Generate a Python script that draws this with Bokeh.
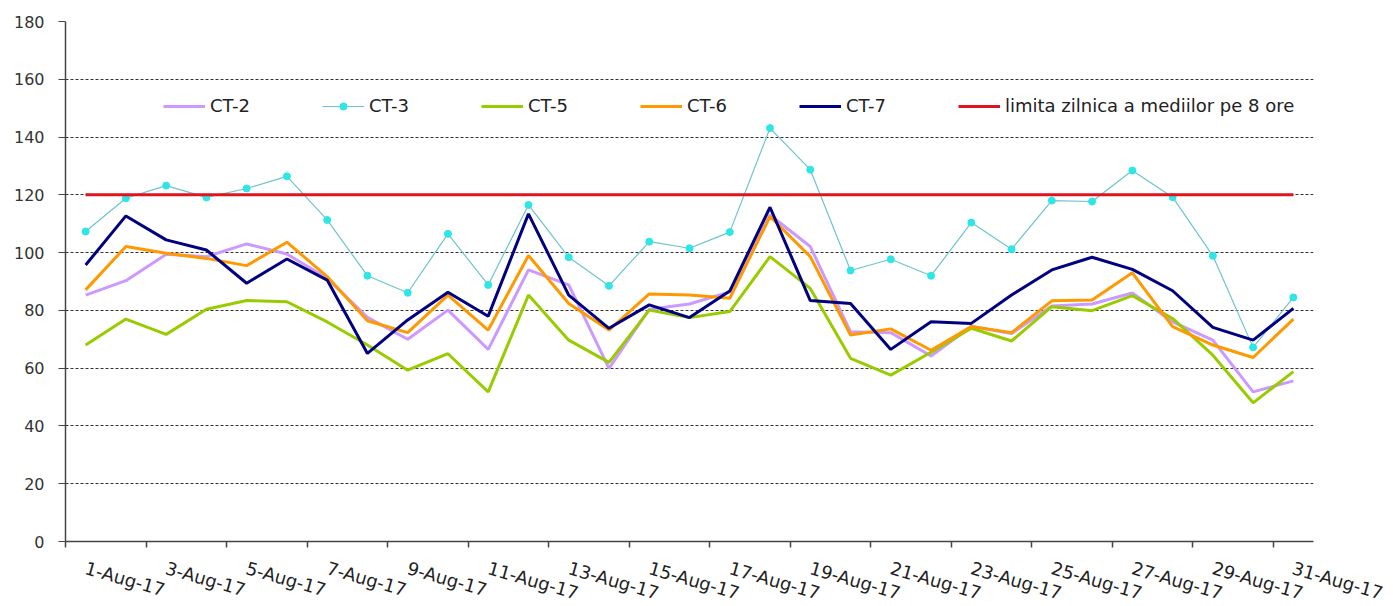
from bokeh.plotting import figure
from bokeh.models import Range1d, FixedTicker, Legend, LegendItem
from bokeh.embed import file_html
from bokeh.resources import INLINE

days = [1, 2, 3, 4, 5, 6, 7, 8, 9, 10, 11, 12, 13, 14, 15, 16, 17, 18, 19, 20,
        21, 22, 23, 24, 25, 26, 27, 28, 29, 30, 31]
date_labels = ["1-Aug-17", "2-Aug-17", "3-Aug-17", "4-Aug-17", "5-Aug-17", "6-Aug-17",
               "7-Aug-17", "8-Aug-17", "9-Aug-17", "10-Aug-17", "11-Aug-17", "12-Aug-17",
               "13-Aug-17", "14-Aug-17", "15-Aug-17", "16-Aug-17", "17-Aug-17", "18-Aug-17",
               "19-Aug-17", "20-Aug-17", "21-Aug-17", "22-Aug-17", "23-Aug-17", "24-Aug-17",
               "25-Aug-17", "26-Aug-17", "27-Aug-17", "28-Aug-17", "29-Aug-17", "30-Aug-17",
               "31-Aug-17"]

ct2 = [85.3, 90.3, 99.4, 98.6, 103.0, 99.5, 91.1, 77.6, 70.0, 80.1, 66.5, 94.0, 88.8, 59.9,
       80.4, 82.2, 86.4, 113.0, 102.1, 72.6, 72.3, 64.2, 74.4, 72.0, 81.5, 82.2, 86.0, 76.0,
       69.7, 51.8, 55.6]
ct3 = [107.3, 118.8, 123.2, 119.1, 122.2, 126.4, 111.3, 92.0, 86.1, 106.5, 88.8, 116.5, 98.4,
       88.5, 103.8, 101.5, 107.1, 143.1, 128.7, 93.8, 97.7, 92.0, 110.4, 101.2, 118.0, 117.7,
       128.4, 119.2, 98.9, 67.2, 84.5]
ct5 = [68.0, 77.0, 71.7, 80.4, 83.4, 83.0, 76.0, 68.0, 59.3, 65.0, 51.8, 85.3, 69.7, 62.0,
       80.1, 77.5, 79.6, 98.6, 87.6, 63.4, 57.6, 65.5, 73.8, 69.4, 81.3, 79.9, 85.1, 77.2,
       64.5, 48.0, 58.8]
ct6 = [87.1, 102.1, 99.8, 98.0, 95.5, 103.6, 91.7, 76.4, 72.3, 85.3, 73.2, 99.0, 82.4, 73.2,
       85.7, 85.3, 84.2, 112.5, 98.6, 71.5, 73.6, 66.2, 74.4, 72.3, 83.3, 83.6, 93.0, 74.4,
       68.0, 63.7, 77.0]
ct7 = [95.7, 112.7, 104.4, 100.9, 89.4, 97.8, 90.5, 65.1, 76.7, 86.3, 78.0, 113.4, 85.3, 73.8,
       81.9, 77.5, 86.7, 115.7, 83.4, 82.4, 66.5, 76.1, 75.5, 85.3, 94.0, 98.4, 94.2, 86.8,
       74.1, 69.7, 80.7]
limit = [120, 120, 120, 120, 120, 120, 120, 120, 120, 120, 120, 120, 120, 120, 120, 120,
         120, 120, 120, 120, 120, 120, 120, 120, 120, 120, 120, 120, 120, 120, 120]

y_ticks = [0, 20, 40, 60, 80, 100, 120, 140, 160, 180]
label_days = [1, 3, 5, 7, 9, 11, 13, 15, 17, 19, 21, 23, 25, 27, 29, 31]
boundary_ticks = [0.5, 2.5, 4.5, 6.5, 8.5, 10.5, 12.5, 14.5, 16.5, 18.5, 20.5, 22.5,
                  24.5, 26.5, 28.5, 30.5]

FONT = "DejaVu Sans"

p = figure(width=1385, height=598, frame_width=1248, frame_height=520,
           x_range=Range1d(0.5, 31.5), y_range=Range1d(0, 180),
           output_backend="svg", toolbar_location=None,
           min_border_left=65, min_border_right=72, min_border_top=21, min_border_bottom=57)
p.outline_line_color = None
p.background_fill_color = "white"
p.border_fill_color = "white"

# grid
p.xgrid.grid_line_color = None
p.ygrid.ticker = FixedTicker(ticks=y_ticks)
p.ygrid.grid_line_color = "#333333"
p.ygrid.grid_line_dash = "3 2"
p.ygrid.grid_line_width = 1

# y axis
p.yaxis.ticker = FixedTicker(ticks=y_ticks)
p.yaxis.axis_line_color = "#444444"
p.yaxis.axis_line_width = 1.5
p.yaxis.major_tick_out = 7
p.yaxis.major_tick_in = 0
p.yaxis.major_tick_line_color = "#444444"
p.yaxis.minor_tick_line_color = None
p.yaxis.major_label_text_font = FONT
p.yaxis.major_label_text_font_size = "16px"
p.yaxis.major_label_text_color = "#333333"
p.yaxis.major_label_standoff = 14

# x axis
p.xaxis.ticker = FixedTicker(ticks=label_days, minor_ticks=boundary_ticks)
p.xaxis.major_label_overrides = {d: date_labels[d - 1] for d in label_days}
p.xaxis.axis_line_color = "#444444"
p.xaxis.axis_line_width = 1.5
p.xaxis.major_tick_line_color = None
p.xaxis.major_tick_out = 0
p.xaxis.major_tick_in = 0
p.xaxis.minor_tick_line_color = "#444444"
p.xaxis.minor_tick_line_width = 1.5
p.xaxis.minor_tick_out = 6
p.xaxis.minor_tick_in = 0
p.xaxis.major_label_orientation = -0.28
p.xaxis.major_label_text_font = FONT
p.xaxis.major_label_text_font_size = "18px"
p.xaxis.major_label_text_color = "#222222"
p.xaxis.major_label_standoff = 20

r2 = p.line(days, ct2, line_color="#CC99FF", line_width=3)
r3 = p.line(days, ct3, line_color="#6CC5CC", line_width=1.2)
r3m = p.scatter(days, ct3, size=7, fill_color="#2EE6E6", line_color="#2EE6E6")
r5 = p.line(days, ct5, line_color="#99CC00", line_width=3)
r6 = p.line(days, ct6, line_color="#FF9900", line_width=3)
r7 = p.line(days, ct7, line_color="#000080", line_width=3)
rl = p.line(days, limit, line_color="#E0141E", line_width=3)

legend = Legend(items=[
    LegendItem(label="CT-2", renderers=[r2]),
    LegendItem(label="CT-3", renderers=[r3, r3m]),
    LegendItem(label="CT-5", renderers=[r5]),
    LegendItem(label="CT-6", renderers=[r6]),
    LegendItem(label="CT-7", renderers=[r7]),
    LegendItem(label="limita zilnica a mediilor pe 8 ore", renderers=[rl]),
], orientation="horizontal", location=(98, 425))
legend.border_line_color = None
legend.background_fill_alpha = 0
legend.padding = 0
legend.margin = 0
legend.glyph_width = 42
legend.glyph_height = 18
legend.label_standoff = 5
legend.label_width = 100
legend.spacing = 12
legend.label_text_font = FONT
legend.label_text_font_size = "18px"
legend.label_text_color = "#222222"
p.add_layout(legend, "center")

open("out.html", "w").write(file_html(p, INLINE))
